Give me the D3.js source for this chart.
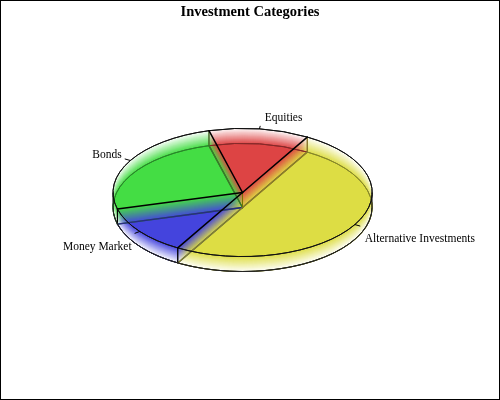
<!DOCTYPE html>
<html>
<head>
<meta charset="utf-8">
<script src="https://d3js.org/d3.v7.min.js"></script>
<style>
  body { margin: 0; background: #fff; }
  svg { display: block; }
  text { font-family: "Liberation Serif", serif; fill: #000; }
</style>
</head>
<body>
<div id="chart"></div>
<script>
// slices go clockwise starting with Alternative Investments
var categories = ["Alternative Investments", "Money Market", "Bonds", "Equities"];
var shares = [50, 12.5, 25, 12.5];
var chartTitle = "Investment Categories";

var svgWidth = 500;
var svgHeight = 400;
var cx = 242.5;
var cy = 192.5;
var rx = 129.5;
var ry = 64;
var depth = 15;

var color = d3.scaleOrdinal(categories, ["#dddd44", "#4444dd", "#44dd44", "#dd4444"]);

var svg = d3.select("#chart")
  .append("svg")
  .attr("width", svgWidth)
  .attr("height", svgHeight);

svg.append("rect")
  .attr("x", 0.5)
  .attr("y", 0.5)
  .attr("width", svgWidth - 1)
  .attr("height", svgHeight - 1)
  .attr("fill", "#fff")
  .attr("stroke", "#000");

svg.append("text")
  .attr("x", 250)
  .attr("y", 16)
  .attr("text-anchor", "middle")
  .attr("font-size", 14.5)
  .attr("font-weight", "bold")
  .text(chartTitle);

var pie = d3.pie()
  .sort(null)
  .startAngle(Math.PI / 6)
  .endAngle(2 * Math.PI + Math.PI / 6);
var arcs = pie(shares);

var arc = d3.arc().innerRadius(0).outerRadius(rx);
var rim = d3.arc().innerRadius(rx).outerRadius(rx);
var squash = ry / rx;

function ellipseAt(dy) {
  return `translate(${cx}, ${cy + dy}) scale(1, ${squash})`;
}

function corner(angle, radius) {
  var a = angle - Math.PI / 2;
  return [cx + radius * Math.cos(a), cy + radius * squash * Math.sin(a)];
}

// rim of a slice as a thin curve, non-scaling so the squash leaves the width alone
function drawRim(d, dy, stroke, width) {
  svg.append("path")
    .attr("transform", ellipseAt(dy))
    .attr("d", rim(d))
    .attr("fill", "none")
    .attr("stroke", stroke)
    .attr("stroke-width", width)
    .attr("vector-effect", "non-scaling-stroke");
}

function drawRadius(angle, dy, stroke, width) {
  var p = corner(angle, rx);
  svg.append("line")
    .attr("x1", cx)
    .attr("y1", cy + dy)
    .attr("x2", p[0])
    .attr("y2", p[1] + dy)
    .attr("stroke", stroke)
    .attr("stroke-width", width)
    .attr("stroke-linecap", "round");
}

// The fade: stacked copies of each slice down the depth, added together,
// so a pixel gets more colour the more copies cover it.
// 17 copies at 1/17 keep the 8 bit colours exact
var shade = svg.append("g").style("isolation", "isolate");
var copies = 17;

d3.range(copies).forEach(n => {
  shade.append("g")
    .attr("transform", ellipseAt(n * depth / (copies - 1)))
    .selectAll("path")
    .data(arcs)
    .enter()
    .append("path")
    .attr("d", arc)
    .attr("fill", (d, i) => color(categories[i]))
    .attr("fill-opacity", 1 / copies)
    .style("mix-blend-mode", "plus-lighter");
});

// Lower outlines in a darker shade of the slice, drawn last slice first
arcs.slice().reverse().forEach(d => {
  var dark = d3.rgb(color(categories[d.index])).darker(1.4);

  drawRim(d, depth, dark, 1);
  drawRadius(d.startAngle, depth, dark, 1.3);
  drawRadius(d.endAngle, depth, dark, 1.3);

  // corner lines: black at the front of the pie, slice colour at the back
  [d.startAngle, d.endAngle].forEach(angle => {
    var p = corner(angle, rx);
    svg.append("line")
      .attr("x1", p[0])
      .attr("y1", p[1])
      .attr("x2", p[0])
      .attr("y2", p[1] + depth)
      .attr("stroke", p[1] > cy ? "#000" : dark);
  });
});

svg.append("line")
  .attr("x1", cx)
  .attr("y1", cy)
  .attr("x2", cx)
  .attr("y2", cy + depth)
  .attr("stroke", "#777700");

// silhouette: front of the lower rim and the two sides
drawRim({startAngle: Math.PI / 2, endAngle: 3 * Math.PI / 2}, depth, "#222", 1);

[cx - rx, cx + rx].forEach(x => {
  svg.append("line")
    .attr("x1", x)
    .attr("y1", cy)
    .attr("x2", x)
    .attr("y2", cy + depth)
    .attr("stroke", "#000");
});

// Top outlines
arcs.forEach(d => {
  drawRim(d, 0, "#111", 1);
  drawRadius(d.startAngle, 0, "#000", 1.5);
});

// Ticks and labels at the middle of each slice
arcs.forEach(d => {
  var mid = (d.startAngle + d.endAngle) / 2;
  var a = corner(mid, rx);
  var b = corner(mid, rx * 1.05);
  var up = Math.cos(mid);
  var right = Math.sin(mid) > 0;

  svg.append("line")
    .attr("x1", a[0])
    .attr("y1", a[1])
    .attr("x2", b[0])
    .attr("y2", b[1])
    .attr("stroke", "#000");

  svg.append("text")
    .attr("x", b[0] + (right ? 4.5 : -3))
    .attr("y", b[1] - 9 * up + (up < 0 ? depth / 2 : 0) + 4)
    .attr("text-anchor", right ? "start" : "end")
    .attr("font-size", 11.5)
    .text(categories[d.index]);
});
</script>
</body>
</html>
